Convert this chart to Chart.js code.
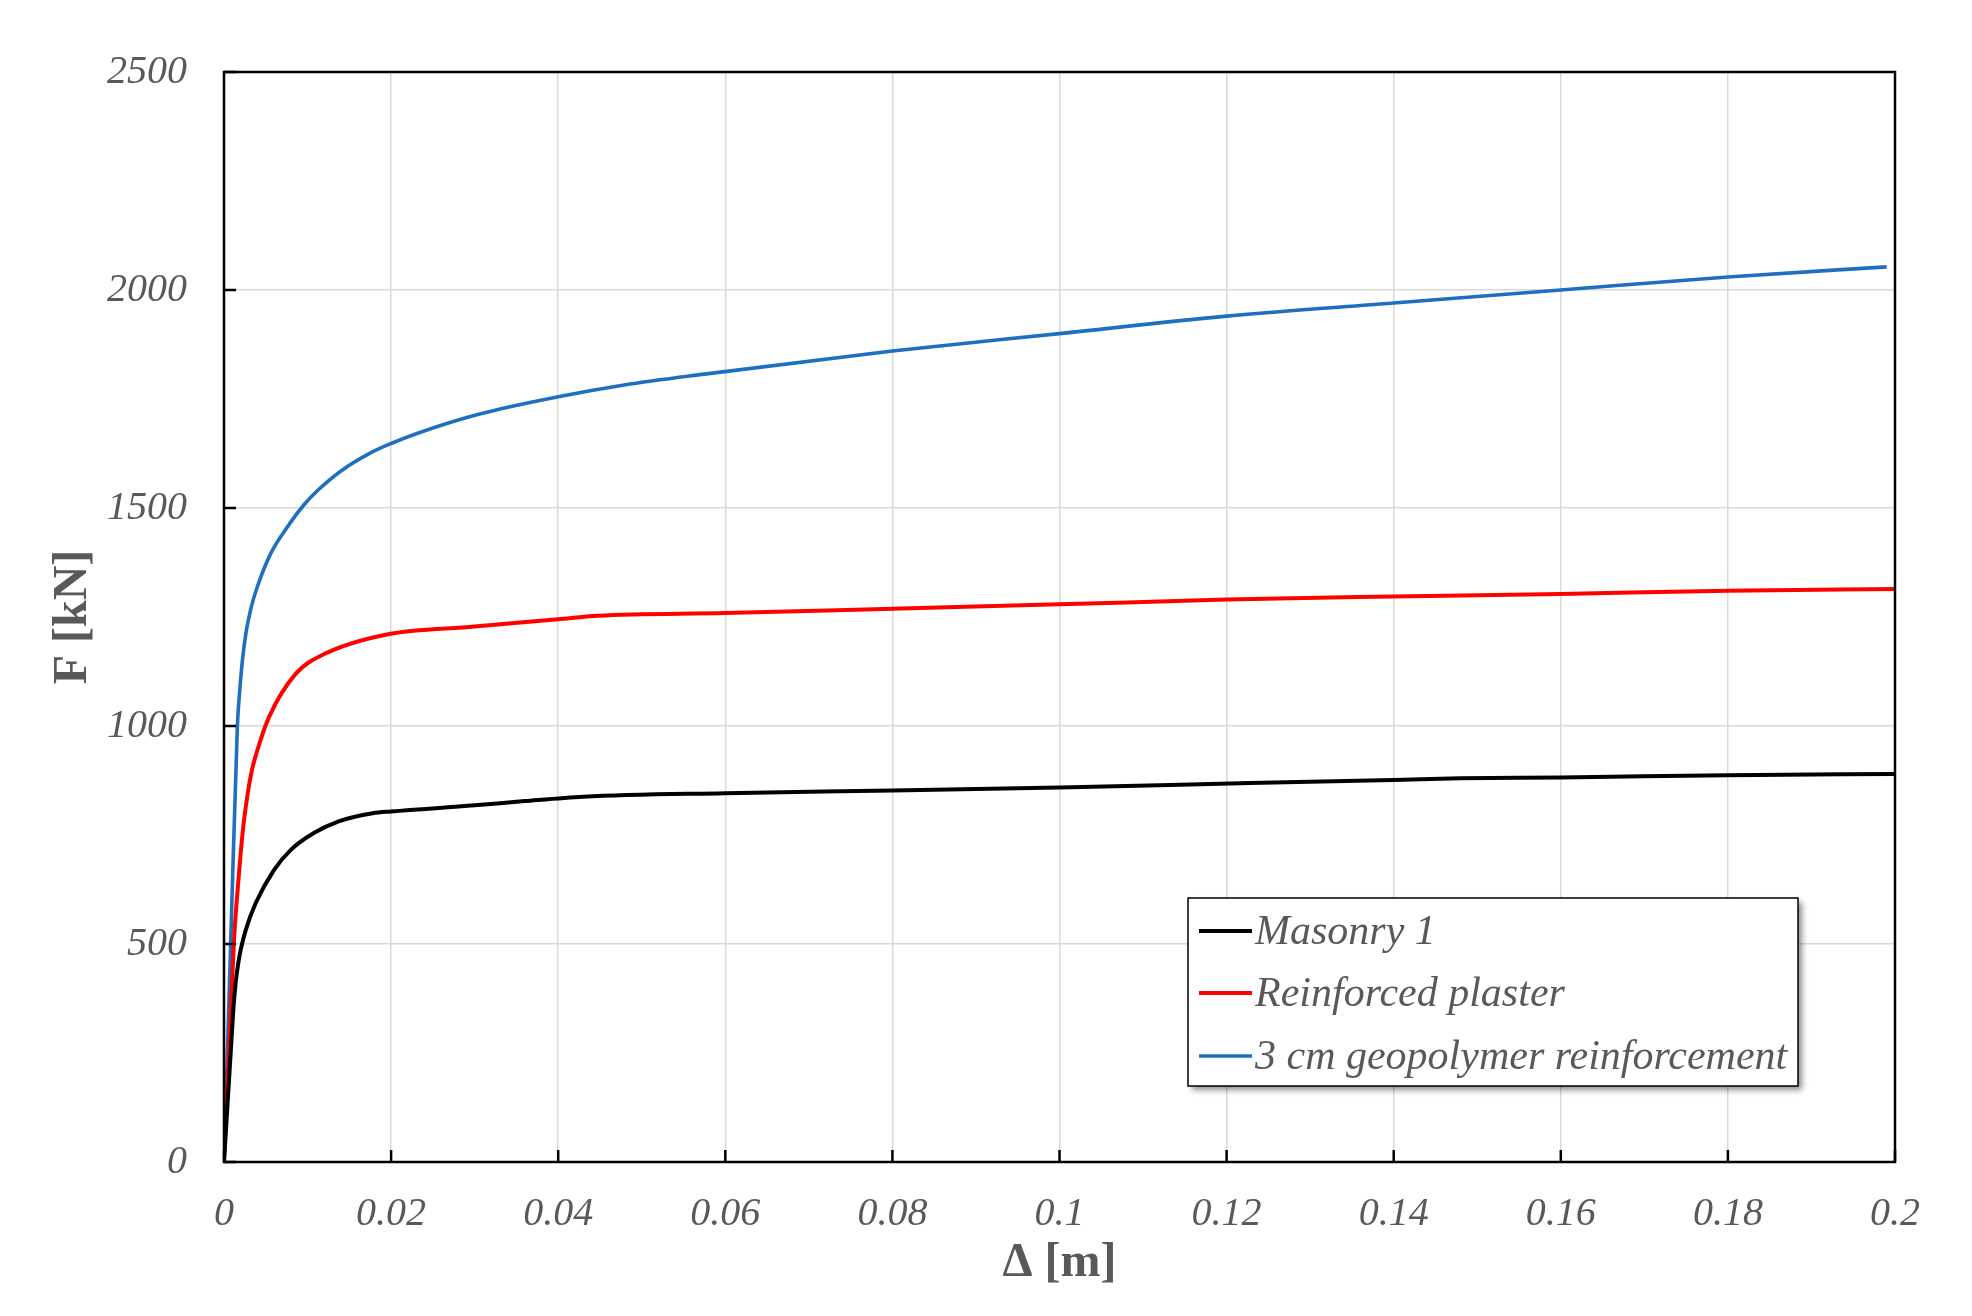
<!DOCTYPE html>
<html>
<head>
<meta charset="utf-8">
<script src="https://cdn.jsdelivr.net/npm/chart.js"></script>
<style>
  html, body { margin: 0; padding: 0; background: #fff; }
  #wrap { width: 1972px; height: 1316px; position: relative; }
</style>
</head>
<body>
<div id="wrap"><canvas id="fd-chart" width="1972" height="1316"></canvas></div>
<script>
// curva forza-spostamento
const xTickLabels = ['0', '0.02', '0.04', '0.06', '0.08', '0.1', '0.12', '0.14', '0.16', '0.18', '0.2'];
const yTickLabels = ['0', '500', '1000', '1500', '2000', '2500'];

const seriesNames = ['Masonry 1', 'Reinforced plaster', '3 cm geopolymer reinforcement'];

const masonryX = [0, 0.0008, 0.0011, 0.0014, 0.0017, 0.002, 0.0026, 0.0038, 0.006, 0.008, 0.0108, 0.0138, 0.0178, 0.02, 0.03, 0.036, 0.043, 0.06, 0.08, 0.1, 0.1228, 0.14, 0.148, 0.16, 0.18, 0.2];
const masonryF = [0, 250, 345, 412, 455, 487, 532, 594, 670, 716, 755, 782, 800, 804, 818, 828, 838, 846, 852, 859, 869, 876, 880, 882, 887, 890];

const plasterX = [0, 0.0007, 0.0012, 0.0018, 0.0023, 0.0028, 0.0033, 0.004, 0.0054, 0.0086, 0.012, 0.0195, 0.03, 0.04, 0.0447, 0.06, 0.08, 0.1, 0.12, 0.14, 0.16, 0.18, 0.2];
const plasterF = [0, 300, 509, 663, 768, 840, 895, 945, 1021, 1120, 1165, 1210, 1228, 1245, 1253, 1259, 1269, 1279, 1290, 1297, 1303, 1310, 1314];

const geoX = [0, 0.0008, 0.0016, 0.0019, 0.0022, 0.0026, 0.0032, 0.004, 0.0056, 0.0076, 0.0096, 0.0112, 0.014, 0.0176, 0.02, 0.0231, 0.0307, 0.04, 0.0479, 0.0575, 0.08, 0.1, 0.12, 0.14, 0.16, 0.18, 0.199];
const geoF = [0, 500, 1000, 1085, 1150, 1210, 1268, 1320, 1396, 1457, 1508, 1540, 1585, 1627, 1648, 1671, 1716, 1755, 1782, 1807, 1860, 1900, 1940, 1970, 2000, 2030, 2053];

const lineColors = ['#000000', '#ff0000', '#1f6fc1'];
const lineWidths = [4, 4, 3.6];

const textGray = '#595959';
const serif = '"Liberation Serif", "Times New Roman", serif';

function toPoints(xs, ys) {
  return xs.map((x, i) => ({ x: x, y: ys[i] }));
}

// bordo, tacche interne, titoli assi e legenda
const decorPlugin = {
  id: 'decor',
  afterDatasetsDraw(chart) {
    const ctx = chart.ctx;
    const a = chart.chartArea;
    const xs = chart.scales.x, ys = chart.scales.y;
    ctx.save();

    // tacche verso l'interno
    ctx.strokeStyle = '#000';
    ctx.lineWidth = 2.5;
    ctx.beginPath();
    xs.ticks.forEach(t => {
      const px = xs.getPixelForValue(t.value);
      ctx.moveTo(px, a.bottom);
      ctx.lineTo(px, a.bottom - 12);
    });
    ys.ticks.forEach(t => {
      const py = ys.getPixelForValue(t.value);
      ctx.moveTo(a.left, py);
      ctx.lineTo(a.left + 12, py);
    });
    ctx.stroke();

    // cornice
    ctx.lineWidth = 2.5;
    ctx.strokeRect(a.left, a.top, a.right - a.left, a.bottom - a.top);

    // legenda
    const box = { x: 1188, y: 898, w: 610, h: 188 };
    ctx.shadowColor = 'rgba(0,0,0,0.45)';
    ctx.shadowBlur = 6;
    ctx.shadowOffsetX = 4;
    ctx.shadowOffsetY = 4;
    ctx.fillStyle = '#fff';
    ctx.fillRect(box.x, box.y, box.w, box.h);
    ctx.shadowColor = 'transparent';
    ctx.lineWidth = 1.5;
    ctx.strokeStyle = '#000';
    ctx.strokeRect(box.x, box.y, box.w, box.h);

    const rowY = [931, 993, 1056];
    ctx.font = 'italic 42px ' + serif;
    ctx.textBaseline = 'middle';
    ctx.textAlign = 'left';
    chart.data.datasets.forEach((ds, i) => {
      ctx.strokeStyle = ds.borderColor;
      ctx.lineWidth = ds.borderWidth;
      ctx.beginPath();
      ctx.moveTo(1199, rowY[i]);
      ctx.lineTo(1252, rowY[i]);
      ctx.stroke();
      ctx.fillStyle = textGray;
      ctx.fillText(ds.label, 1255, rowY[i] + 2);
    });

    // titoli assi
    ctx.fillStyle = textGray;
    ctx.font = 'bold 48px ' + serif;
    ctx.textAlign = 'center';
    ctx.fillText('\u0394 [m]', (a.left + a.right) / 2, 1264);
    ctx.translate(74, (a.top + a.bottom) / 2);
    ctx.rotate(-Math.PI / 2);
    ctx.fillText('F [kN]', 0, 0);
    ctx.restore();
  }
};

new Chart(document.getElementById('fd-chart'), {
  type: 'scatter',
  data: {
    datasets: [
      { label: seriesNames[0], data: toPoints(masonryX, masonryF), borderColor: lineColors[0], borderWidth: lineWidths[0] },
      { label: seriesNames[1], data: toPoints(plasterX, plasterF), borderColor: lineColors[1], borderWidth: lineWidths[1] },
      { label: seriesNames[2], data: toPoints(geoX, geoF), borderColor: lineColors[2], borderWidth: lineWidths[2] }
    ].map(d => Object.assign(d, {
      showLine: true,
      pointRadius: 0,
      cubicInterpolationMode: 'monotone',
      backgroundColor: d.borderColor
    }))
  },
  options: {
    responsive: false,
    animation: false,
    layout: { padding: { top: 72, right: 77, left: 0, bottom: 0 } },
    plugins: {
      legend: { display: false },
      tooltip: { enabled: false }
    },
    scales: {
      x: {
        type: 'linear',
        min: 0,
        max: 0.2,
        afterFit: s => { s.height = 1316 - 1162; },
        afterBuildTicks: s => { s.ticks = xTickLabels.map(v => ({ value: parseFloat(v) })); },
        ticks: {
          callback: (v, i) => xTickLabels[i],
          color: textGray,
          font: { family: serif, style: 'italic', size: 40 },
          padding: 28,
          maxRotation: 0
        },
        grid: { color: '#d9d9d9', lineWidth: 1.5, drawTicks: false },
        border: { display: false }
      },
      y: {
        type: 'linear',
        min: 0,
        max: 2500,
        afterFit: s => { s.width = 224; },
        afterBuildTicks: s => { s.ticks = yTickLabels.map(v => ({ value: Number(v) })); },
        ticks: {
          callback: (v, i) => yTickLabels[i],
          color: textGray,
          font: { family: serif, style: 'italic', size: 40 },
          padding: 37
        },
        grid: { color: '#d9d9d9', lineWidth: 1.5, drawTicks: false },
        border: { display: false }
      }
    }
  },
  plugins: [decorPlugin]
});
</script>
</body>
</html>
